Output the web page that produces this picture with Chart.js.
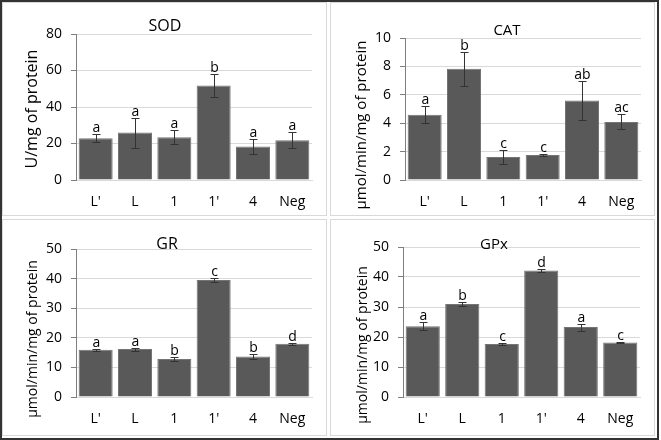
<!DOCTYPE html>
<html>
<head>
<meta charset="utf-8">
<script src="https://cdn.jsdelivr.net/npm/chart.js@4.4.1/dist/chart.umd.min.js"></script>
<style>
  body { margin: 0; background: #fff; }
  #frame { position: absolute; left: 0; top: 0; width: 655px; height: 436px; border: 2px solid #333; }
  .panel { position: absolute; border: 1px solid #d9d9d9; background: #fff; }
  .panel canvas { display: block; }
</style>
</head>
<body>
<div id="frame"></div>
<div class="panel" style="left:2px;top:2px;width:323px;height:212px"><canvas id="sodChart" width="323" height="212"></canvas></div>
<div class="panel" style="left:330px;top:2px;width:323px;height:212px"><canvas id="catChart" width="323" height="212"></canvas></div>
<div class="panel" style="left:2px;top:219px;width:323px;height:215px"><canvas id="grChart" width="323" height="215"></canvas></div>
<div class="panel" style="left:330px;top:219px;width:323px;height:215px"><canvas id="gpxChart" width="323" height="215"></canvas></div>
<script>
// data
const categories = ["L'", "L", "1", "1'", "4", "Neg"];

const sodValues = [22.9, 26.0, 23.4, 51.8, 18.3, 21.8];
const sodErrors = [2.3, 8.2, 3.9, 6.1, 4.3, 4.3];
const sodLetters = ["a", "a", "a", "b", "a", "a"];

const catValues = [4.6, 7.83, 1.62, 1.76, 5.6, 4.09];
const catErrors = [0.61, 1.18, 0.5, 0.1, 1.35, 0.53];
const catLetters = ["a", "b", "c", "c", "ab", "ac"];

const grValues = [16.0, 16.2, 12.8, 39.5, 13.7, 18.0];
const grErrors = [0.3, 0.5, 0.8, 0.7, 0.9, 0.4];
const grLetters = ["a", "a", "b", "c", "b", "d"];

const gpxValues = [23.6, 31.0, 17.7, 42.2, 23.3, 18.2];
const gpxErrors = [1.3, 0.8, 0.3, 0.4, 1.2, 0.3];
const gpxLetters = ["a", "b", "c", "d", "a", "c"];

const sodAxis = [0, 80, 20];
const catAxis = [0, 10, 2];
const grAxis = [0, 50, 10];
const gpxAxis = [0, 50, 10];

const FONT = "'Open Sans', sans-serif";

// error bars, letters, titles
const annotPlugin = {
  id: "annot",
  afterDraw(chart, args, opts) {
    const ctx = chart.ctx;
    const ds = chart.data.datasets[0];
    const meta = chart.getDatasetMeta(0);
    const y = chart.scales.y;
    ctx.save();
    ctx.strokeStyle = "#333";
    ctx.lineWidth = 1;
    ctx.fillStyle = "#000";
    ctx.font = "14px " + FONT;
    ctx.textAlign = "center";
    ctx.textBaseline = "alphabetic";
    meta.data.forEach((bar, i) => {
      const hi = Math.round(y.getPixelForValue(ds.data[i] + ds.errors[i])) + 0.5;
      const lo = Math.round(y.getPixelForValue(ds.data[i] - ds.errors[i])) + 0.5;
      const x = Math.round(bar.x) + 0.5;
      ctx.beginPath();
      ctx.moveTo(x, hi); ctx.lineTo(x, lo);
      ctx.moveTo(x - 4, hi); ctx.lineTo(x + 4, hi);
      ctx.moveTo(x - 4, lo); ctx.lineTo(x + 4, lo);
      ctx.stroke();
      ctx.fillText(ds.letters[i], x, hi - 2.5);
    });
    // chart title
    ctx.font = opts.titleSize + "px " + FONT;
    ctx.textBaseline = "middle";
    ctx.fillText(opts.title, opts.titleX, opts.titleY);
    // y axis title
    ctx.translate(opts.yTitleX, opts.yTitleY);
    ctx.rotate(-Math.PI / 2);
    ctx.font = opts.yTitleSize + "px " + FONT;
    ctx.fillText(opts.yTitle, 0, 0);
    ctx.restore();
  },
};

function makeChart(id, values, errors, letters, axis, box, annot) {
  new Chart(document.getElementById(id), {
    type: "bar",
    data: {
      labels: categories,
      datasets: [
        {
          data: values,
          errors: errors,
          letters: letters,
          backgroundColor: "#595959",
          borderColor: "#747474",
          borderWidth: 1,
          barPercentage: 0.865,
          categoryPercentage: 1,
        },
      ],
    },
    options: {
      responsive: false,
      animation: false,
      events: [],
      layout: { padding: { left: 0, top: box.top, right: box.right, bottom: 0 } },
      plugins: { legend: { display: false }, tooltip: { enabled: false }, annot: annot },
      scales: {
        x: {
          afterFit: (s) => { s.height = box.bottom; },
          grid: { display: false, drawTicks: false },
          border: { display: true, color: "#d9d9d9" },
          ticks: { color: "#000", font: { family: FONT, size: 14 }, padding: 14 },
        },
        y: {
          min: axis[0],
          max: axis[1],
          afterFit: (s) => { s.width = box.left; },
          grid: { color: "#d9d9d9", tickColor: "#7f7f7f", tickLength: 5 },
          border: { color: "#7f7f7f" },
          ticks: { stepSize: axis[2], color: "#000", font: { family: FONT, size: 14 }, padding: 9 },
        },
      },
    },
    plugins: [annotPlugin],
  });
}

makeChart("sodChart", sodValues, sodErrors, sodLetters, sodAxis,
  { left: 73, top: 31, right: 14, bottom: 35 },
  { title: "SOD", titleSize: 16, titleX: 162, titleY: 23, yTitle: "U/mg of protein", yTitleSize: 16, yTitleX: 29, yTitleY: 106 });

makeChart("catChart", catValues, catErrors, catLetters, catAxis,
  { left: 74, top: 35, right: 13, bottom: 35 },
  { title: "CAT", titleSize: 15, titleX: 176, titleY: 28, yTitle: "\u03bcmol/min/mg of protein", yTitleSize: 15, yTitleX: 31, yTitleY: 122 });

makeChart("grChart", grValues, grErrors, grLetters, grAxis,
  { left: 73, top: 29, right: 14, bottom: 38 },
  { title: "GR", titleSize: 16, titleX: 164, titleY: 24, yTitle: "\u03bcmol/min/mg of protein", yTitleSize: 14, yTitleX: 30, yTitleY: 119 });

makeChart("gpxChart", gpxValues, gpxErrors, gpxLetters, gpxAxis,
  { left: 72, top: 27, right: 14, bottom: 38 },
  { title: "GPx", titleSize: 15, titleX: 163, titleY: 25, yTitle: "\u03bcmol/min/mg of protein", yTitleSize: 14, yTitleX: 32, yTitleY: 125 });
</script>
</body>
</html>
